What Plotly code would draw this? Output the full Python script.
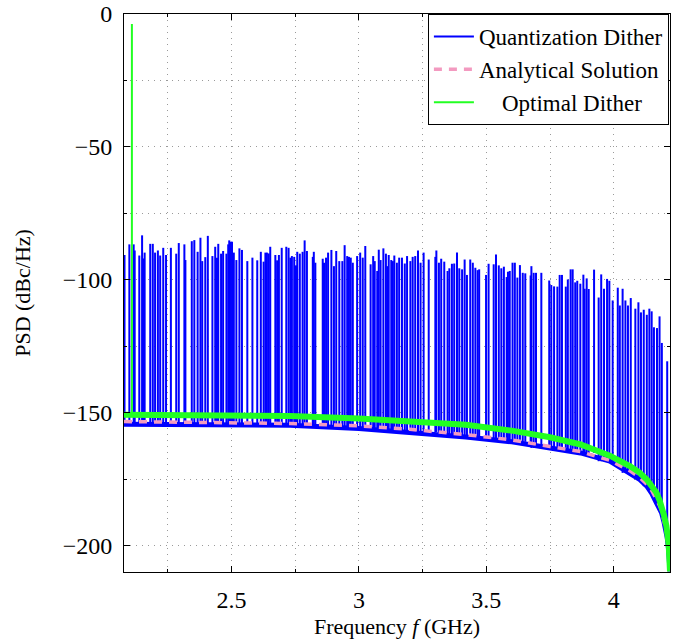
import plotly.graph_objects as go

# ---- Data ----
# Spurious tones of the quantization-dither PSD (frequency in GHz, peak in dBc/Hz)
spike_freq_ghz = [
    2.080, 2.099, 2.116, 2.120, 2.138, 2.149, 2.154, 2.159, 2.181, 2.191,
    2.200, 2.211, 2.220, 2.232, 2.243, 2.262, 2.283, 2.293, 2.315, 2.319,
    2.344, 2.354, 2.367, 2.378, 2.385, 2.397, 2.407, 2.425,
    2.436, 2.443, 2.448, 2.459, 2.467, 2.480, 2.487, 2.491, 2.497, 2.502,
    2.509, 2.519, 2.531, 2.541, 2.562, 2.582, 2.601, 2.615, 2.626, 2.633,
    2.639, 2.646, 2.652, 2.672, 2.679, 2.686, 2.697, 2.715, 2.724, 2.731,
    2.737, 2.746, 2.753, 2.758, 2.768, 2.779,
    2.787, 2.796, 2.819, 2.823, 2.829, 2.858, 2.863, 2.871, 2.879, 2.892,
    2.902, 2.911, 2.923, 2.935, 2.944, 2.954, 2.961, 2.968, 2.976, 2.993,
    3.005, 3.015, 3.025, 3.046, 3.056, 3.062, 3.072, 3.078, 3.085, 3.096,
    3.106, 3.111, 3.117, 3.127, 3.133,
    3.139, 3.149, 3.158, 3.169, 3.180, 3.189, 3.202, 3.211, 3.221, 3.232,
    3.242, 3.254, 3.274, 3.300, 3.304, 3.314, 3.323, 3.335, 3.348, 3.355,
    3.365, 3.374, 3.385, 3.394, 3.405, 3.415, 3.424, 3.437, 3.447, 3.457,
    3.466, 3.472,
    3.499, 3.509, 3.529, 3.538, 3.549, 3.559, 3.569, 3.580, 3.585, 3.592,
    3.603, 3.612, 3.622, 3.632, 3.643, 3.653, 3.674, 3.677, 3.686, 3.695,
    3.716, 3.747, 3.755, 3.766, 3.779, 3.788, 3.797, 3.812, 3.820, 3.831,
    3.839,
    3.849, 3.857, 3.869, 3.881, 3.886, 3.894, 3.902, 3.923, 3.941, 3.951,
    3.962, 3.974, 3.983, 3.996, 4.016, 4.024, 4.035, 4.046, 4.056, 4.067,
    4.085, 4.097, 4.107, 4.118, 4.130, 4.140, 4.149, 4.158, 4.170, 4.180,
    4.189, 4.210,
]
spike_psd_dbc = [
    -90.7, -86.7, -86.7, -89.0, -90.9, -83.3, -92.0, -89.8, -86.5, -86.5,
    -89.8, -89.0, -90.9, -88.0, -90.7, -88.0, -90.2, -86.2, -86.7, -92.6,
    -85.5, -85.1, -89.5, -84.2, -93.0, -91.5, -83.5, -91.1,
    -87.6, -91.7, -86.5, -90.2, -89.2, -90.2, -86.7, -85.2, -85.7, -85.7,
    -89.8, -92.6, -88.2, -88.8, -93.0, -91.7, -92.7, -89.5, -93.2, -89.8,
    -89.8, -90.1, -87.6, -90.7, -92.7, -90.7, -88.0, -87.6, -88.0, -91.7,
    -91.1, -91.4, -94.6, -89.5, -90.2, -89.5,
    -85.2, -89.2, -91.4, -89.5, -93.6, -92.1, -93.6, -91.7, -89.8, -88.8,
    -94.9, -89.2, -93.0, -93.0, -87.0, -91.1, -91.4, -91.7, -93.6, -91.1,
    -89.8, -91.7, -87.3, -94.2, -91.1, -93.0, -96.7, -88.7, -92.6, -88.2,
    -90.2, -94.9, -90.7, -92.6, -93.0,
    -90.9, -93.6, -91.7, -91.7, -93.9, -91.1, -93.0, -91.4, -91.1, -89.0,
    -93.6, -89.8, -92.4, -91.4, -89.0, -93.6, -92.1, -93.2, -96.7, -95.7,
    -94.0, -93.9, -89.8, -95.7, -96.1, -92.4, -98.2, -92.4, -93.6, -95.5,
    -96.4, -96.1,
    -98.2, -94.0, -94.2, -90.5, -94.6, -95.7, -95.1, -99.0, -97.0, -96.7,
    -93.6, -93.6, -99.2, -94.5, -97.4, -97.6, -98.4, -94.9, -97.4, -97.4,
    -97.4, -100.3, -102.0, -102.5, -102.6, -98.2, -98.2, -102.6, -99.9, -96.1,
    -96.1,
    -101.0, -100.4, -101.5, -98.1, -103.4, -99.5, -103.5, -96.2, -106.7, -98.0,
    -103.4, -99.7, -100.4, -107.8, -103.0, -109.7, -103.4, -107.8, -109.7, -106.9,
    -110.9, -108.5, -112.3, -111.3, -113.2, -110.9, -111.9, -117.9, -118.2, -113.8,
    -123.8, -130.7,
]

# Noise floors (frequency in GHz, level in dBc/Hz)
floor_freq_ghz = [2.078, 2.40, 2.73, 3.00, 3.20, 3.42, 3.60, 3.75, 3.87, 3.985,
                  4.065, 4.10, 4.13, 4.15, 4.168, 4.18, 4.188, 4.197, 4.207,
                  4.21, 4.216, 4.221]
quant_floor_dbc = [-154.4, -154.6, -154.8, -156.0, -157.3, -159.2, -161.0, -163.3,
                   -165.2, -168.3, -172.7, -175.0, -177.7, -180.5, -184.0, -186.2,
                   -187.7, -191.0, -195.2, -197.0, -202.0, -209.8]
analytic_dbc = [-153.4, -153.6, -154.1, -155.0, -156.3, -158.3, -160.3, -162.8,
                -164.7, -168.0, -172.0, -174.3, -177.0, -179.5, -182.5, -185.0,
                -187.0, -190.5, -194.5, -196.3, -201.0, -209.8]
optimal_floor_dbc = [-150.8, -151.0, -151.3, -152.2, -153.2, -154.6, -156.8, -159.3,
                     -162.0, -166.2, -170.2, -172.5, -175.2, -177.5, -180.2, -183.0,
                     -185.2, -188.5, -192.7, -194.5, -200.0, -209.8]

# Carrier tone of the optimal-dither PSD
optimal_tone_freq_ghz = [2.109]
optimal_tone_dbc = [-3.8]

x_tick_vals = [2.5, 3, 3.5, 4]
x_tick_text = ["2.5", "3", "3.5", "4"]
y_tick_vals = [-200, -150, -100, -50, 0]
y_tick_text = ["\u2212200", "\u2212150", "\u2212100", "\u221250", "0"]

SERIF = "Liberation Serif, Times New Roman, serif"
BLUE = "#0000ff"
PINK = "#f39ac0"
GREEN = "#22ff22"


def nearest_sample(freq, levels):
    idx = min(range(len(floor_freq_ghz)), key=lambda k: abs(floor_freq_ghz[k] - freq))
    return levels[idx]


spike_x, spike_y = [], []
for f, p in zip(spike_freq_ghz, spike_psd_dbc):
    spike_x += [f, f, None]
    spike_y += [nearest_sample(f, quant_floor_dbc), p, None]

tone_x, tone_y = [], []
for f, p in zip(optimal_tone_freq_ghz, optimal_tone_dbc):
    tone_x += [f, f, None]
    tone_y += [nearest_sample(f, optimal_floor_dbc), p, None]

fig = go.Figure()
fig.add_trace(go.Scatter(x=floor_freq_ghz, y=quant_floor_dbc, mode="lines",
                         line=dict(color=BLUE, width=5), showlegend=False,
                         legendgroup="q", hoverinfo="skip"))
fig.add_trace(go.Scatter(x=spike_x, y=spike_y, mode="lines", name="Quantization Dither",
                         line=dict(color=BLUE, width=2), legendgroup="q"))
fig.add_trace(go.Scatter(x=floor_freq_ghz, y=analytic_dbc, mode="lines",
                         name="Analytical Solution",
                         line=dict(color=PINK, width=3.5, dash="8px,7px")))
fig.add_trace(go.Scatter(x=floor_freq_ghz, y=optimal_floor_dbc, mode="lines",
                         line=dict(color=GREEN, width=6), showlegend=False,
                         legendgroup="o", hoverinfo="skip"))
fig.add_trace(go.Scatter(x=tone_x, y=tone_y, mode="lines",
                         name="\u00a0\u00a0\u00a0\u00a0Optimal Dither",
                         line=dict(color=GREEN, width=2), legendgroup="o"))

grid_col = "#9a9a9a"
grid_dash = "1px,5px"
common_axis = dict(
    showline=True, linecolor="black", linewidth=1, mirror="ticks",
    ticks="inside", ticklen=6, tickcolor="black",
    showgrid=True, gridcolor=grid_col, griddash=grid_dash, gridwidth=1,
    zeroline=False, automargin=False, ticklabeloverflow="allow",
    tickfont=dict(family=SERIF, size=24, color="black"),
)

fig.update_layout(
    width=677, height=639,
    margin=dict(l=124, r=7, t=14, b=67),
    paper_bgcolor="white", plot_bgcolor="white",
    font=dict(family=SERIF, color="black"),
    xaxis=dict(
        range=[2.078, 4.221], tickmode="array", tickvals=x_tick_vals, ticktext=x_tick_text,
        minor=dict(dtick=0.25, tick0=2.0, ticks="inside", ticklen=3, tickcolor="black",
                   showgrid=True, gridcolor=grid_col, griddash=grid_dash, gridwidth=1),
        title=dict(text="Frequency <i>f</i> (GHz)", font=dict(family=SERIF, size=22),
                   standoff=8),
        ticklabelstandoff=6,
        **common_axis,
    ),
    yaxis=dict(
        range=[-210, 0], tickmode="array", tickvals=y_tick_vals, ticktext=y_tick_text,
        minor=dict(dtick=25, tick0=0, ticks="inside", ticklen=3, tickcolor="black",
                   showgrid=True, gridcolor=grid_col, griddash=grid_dash, gridwidth=1),
        title=dict(text="PSD (dBc/Hz)", font=dict(family=SERIF, size=22), standoff=25),
        ticklabelstandoff=6,
        **common_axis,
    ),
    legend=dict(
        x=0.998, y=1.0, xanchor="right", yanchor="top",
        bgcolor="white", bordercolor="black", borderwidth=1,
        font=dict(family=SERIF, size=23, color="black"),
        tracegroupgap=0, itemwidth=40,
    ),
    showlegend=True,
)

# Remove the browser's default page margin so the figure sits at the window origin.
fig.write_html("out.html", config={"displayModeBar": False},
               post_script="document.body.style.margin='0';")
